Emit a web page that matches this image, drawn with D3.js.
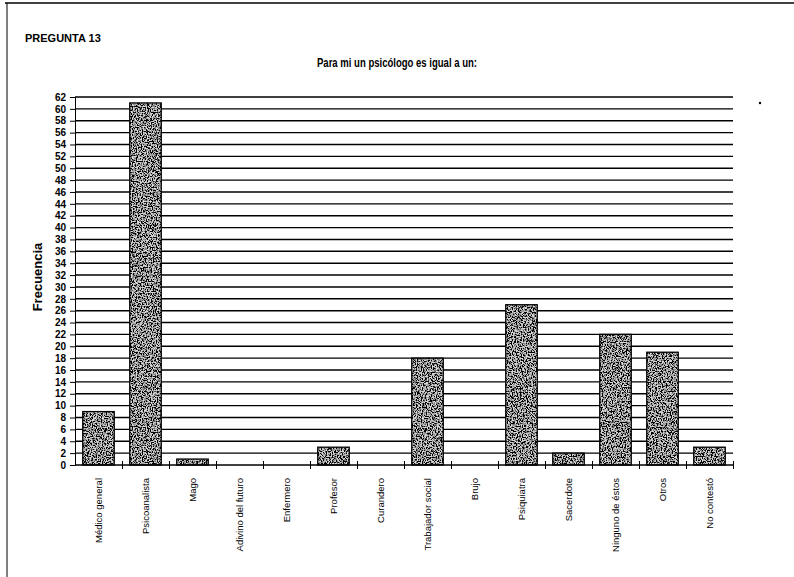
<!DOCTYPE html>
<html>
<head>
<meta charset="utf-8">
<script src="https://cdn.jsdelivr.net/npm/d3@7"></script>
<style>
body{margin:0;background:#fff;}
text{font-family:"Liberation Sans",Arial,sans-serif;fill:#000;font-weight:bold;}
</style>
</head>
<body>
<div class="chart_div"></div>
<script>
var categorias = ["Médico general","Psicoanalista","Mago","Adivino del futuro","Enfermero","Profesor","Curandero","Trabajador social","Brujo","Psiquiatra","Sacerdote","Ninguno de éstos","Otros","No contestó"];
var frecuencias = [9,61,1,0,0,3,0,18,0,27,2,22,19,3];
var ticksY = d3.range(0,63,2);

var W = 794, H = 577;
var x0 = 75, x1 = 733, yTop = 97, yBase = 465;

var svg = d3.select(".chart_div").append("svg")
	.attr("width",W)
	.attr("height",H);

// grano de las barras (fotocopia)
var defs = svg.append("defs");
var f = defs.append("filter").attr("id","grano")
	.attr("x",0).attr("y",0).attr("width",1).attr("height",1);
f.append("feTurbulence").attr("type","fractalNoise")
	.attr("baseFrequency",0.8).attr("numOctaves",2).attr("seed",3).attr("result","ruido");
f.append("feColorMatrix").attr("in","ruido").attr("type","matrix")
	.attr("values","0 0 0 0 0  0 0 0 0 0  0 0 0 0 0  -5 0 0 0 3.1")
	.attr("result","puntos");
f.append("feFlood").attr("flood-color","#d8d8d8").attr("result","claro");
f.append("feComposite").attr("in","puntos").attr("in2","claro").attr("operator","over").attr("result","tex");
f.append("feComposite").attr("in","tex").attr("in2","SourceGraphic").attr("operator","in");

// marco
svg.append("line").attr("x1",5).attr("x2",794).attr("y1",3).attr("y2",3)
	.attr("stroke","#000").attr("stroke-width",1.5);
svg.append("line").attr("x1",7).attr("x2",7).attr("y1",3).attr("y2",577)
	.attr("stroke","#000").attr("stroke-width",1);
svg.append("circle").attr("cx",760).attr("cy",103).attr("r",1.2).attr("fill","#000");

svg.append("text").attr("x",25).attr("y",42)
	.style("font-size","11px")
	.text("PREGUNTA  13");
svg.append("text").attr("x",397).attr("y",67).attr("text-anchor","middle")
	.style("font-size","12px")
	.attr("textLength",160).attr("lengthAdjust","spacingAndGlyphs")
	.text("Para mi un psicólogo es igual a un:");

var x = d3.scaleBand().domain(categorias).range([x0,x1])
	.paddingInner(0.33).paddingOuter(0.165);
var y = d3.scaleLinear().domain([0,62]).range([yBase,yTop]);

// lineas de la cuadricula
svg.selectAll(".grid")
	.data(ticksY.slice(1))
	.enter()
	.append("line")
	.attr("class","grid")
	.attr("x1",x0).attr("x2",x1)
	.attr("y1",function(d){ return y(d); })
	.attr("y2",function(d){ return y(d); })
	.attr("stroke","#000").attr("stroke-width",1.4);

// eje y
var ejeY = svg.append("g").attr("transform","translate(" + x0 + ",0)")
	.call(d3.axisLeft(y).tickValues(ticksY).tickSize(5).tickPadding(4));
ejeY.select(".domain").attr("stroke","#000").attr("stroke-width",1);
ejeY.selectAll("text").style("font-size","10px")
	.style("font-family","'Liberation Sans',Arial,sans-serif")
	.style("font-weight","bold");

// barras
svg.selectAll(".barra")
	.data(frecuencias)
	.enter()
	.append("rect")
	.attr("class","barra")
	.attr("x",function(d,i){ return x(categorias[i]); })
	.attr("y",function(d){ return y(d); })
	.attr("width",x.bandwidth())
	.attr("height",function(d){ return yBase - y(d); })
	.attr("fill","#555")
	.attr("filter","url(#grano)")
	.style("display",function(d){ return d > 0 ? null : "none"; });
svg.selectAll(".borde")
	.data(frecuencias)
	.enter()
	.append("rect")
	.attr("class","borde")
	.attr("x",function(d,i){ return x(categorias[i]); })
	.attr("y",function(d){ return y(d); })
	.attr("width",x.bandwidth())
	.attr("height",function(d){ return yBase - y(d); })
	.attr("fill","none")
	.attr("stroke","#000").attr("stroke-width",1.3)
	.style("display",function(d){ return d > 0 ? null : "none"; });

// eje x
svg.append("line").attr("x1",x0).attr("x2",x1)
	.attr("y1",yBase).attr("y2",yBase)
	.attr("stroke","#000").attr("stroke-width",1.3);
svg.selectAll(".tickx")
	.data(categorias)
	.enter()
	.append("line")
	.attr("class","tickx")
	.attr("x1",function(d){ return x(d) + x.bandwidth() + x.step()*x.paddingInner()/2 + 0.5; })
	.attr("x2",function(d){ return x(d) + x.bandwidth() + x.step()*x.paddingInner()/2 + 0.5; })
	.attr("y1",yBase - 4).attr("y2",yBase + 4)
	.attr("stroke","#000");

svg.selectAll(".etiq")
	.data(categorias)
	.enter()
	.append("text")
	.attr("class","etiq")
	.attr("transform",function(d){
		return "translate(" + (x(d) + x.bandwidth()/2 + 3) + "," + (yBase + 13) + ") rotate(-90)";
	})
	.attr("text-anchor","end")
	.style("font-size","9.5px")
	.style("font-weight","normal")
	.text(function(d){ return d; });

svg.append("text")
	.attr("transform","translate(42,277) rotate(-90)")
	.attr("text-anchor","middle")
	.style("font-size","13px")
	.text("Frecuencia");
</script>
</body>
</html>
